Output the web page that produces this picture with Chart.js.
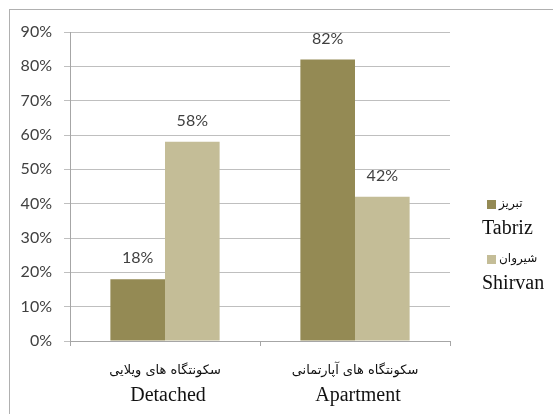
<!DOCTYPE html>
<html>
<head>
<meta charset="utf-8">
<script src="https://cdn.jsdelivr.net/npm/chart.js@4.4.0/dist/chart.umd.min.js"></script>
<style>
  body { margin: 0; background: #fff; }
  #wrap { position: relative; width: 553px; height: 414px; overflow: hidden; }
  #frame { position: absolute; left: 9px; top: 9px; width: 600px; height: 500px; border: 1.5px solid #b0b0b0; pointer-events: none; }
  canvas { position: absolute; left: 0; top: 0; }
</style>
</head>
<body>
<div id="wrap">
  <canvas id="chart" width="553" height="414"></canvas>
  <div id="frame"></div>
</div>
<script>
// categories and series
const categoriesFa = ['سکونتگاه های ویلایی', 'سکونتگاه های آپارتمانی'];
const categoriesEn = ['Detached', 'Apartment'];
const seriesFa = ['تبریز', 'شیروان'];
const seriesEn = ['Tabriz', 'Shirvan'];
const tabriz = [18, 82];
const shirvan = [58, 42];
const colors = ['#948A54', '#C4BD97'];

// value labels above bars
const valueLabels = {
  id: 'valueLabels',
  afterDatasetsDraw(chart) {
    const ctx = chart.ctx;
    ctx.save();
    ctx.font = '16px Lato';
    ctx.fillStyle = '#404040';
    ctx.textAlign = 'center';
    ctx.textBaseline = 'middle';
    chart.data.datasets.forEach((ds, i) => {
      chart.getDatasetMeta(i).data.forEach((bar, j) => {
        ctx.fillText(ds.data[j] + '%', bar.x, bar.y - 21);
      });
    });
    ctx.restore();
  }
};

// two line category labels, Persian + English
const catLabels = {
  id: 'catLabels',
  afterDraw(chart) {
    const ctx = chart.ctx;
    const x = chart.scales.x;
    const y0 = chart.chartArea.bottom;
    ctx.save();
    ctx.textAlign = 'center';
    ctx.textBaseline = 'middle';
    ctx.fillStyle = '#111';
    categoriesEn.forEach((c, i) => {
      const px = x.getPixelForValue(i);
      ctx.font = '13px "DejaVu Sans"';
      ctx.fillText(categoriesFa[i], px, y0 + 30);
      ctx.font = '20px "Liberation Serif"';
      ctx.fillText(c, px + 3, y0 + 55);
    });
    ctx.restore();
  }
};

// legend at the right
const sideLegend = {
  id: 'sideLegend',
  afterDraw(chart) {
    const ctx = chart.ctx;
    ctx.save();
    chart.data.datasets.forEach((ds, i) => {
      const top = 200 + i * 55;
      ctx.fillStyle = ds.backgroundColor;
      ctx.fillRect(487, top, 9, 9);
      ctx.fillStyle = '#111';
      ctx.textBaseline = 'middle';
      ctx.textAlign = 'left';
      ctx.font = '12px "DejaVu Sans"';
      ctx.fillText(seriesFa[i], 499, top + 4);
      ctx.font = '20px "Liberation Serif"';
      ctx.fillText(seriesEn[i], 482, top + 29);
    });
    ctx.restore();
  }
};

new Chart(document.getElementById('chart'), {
  type: 'bar',
  data: {
    labels: categoriesEn,
    datasets: [
      { label: seriesEn[0], data: tabriz, backgroundColor: colors[0] },
      { label: seriesEn[1], data: shirvan, backgroundColor: colors[1] }
    ]
  },
  options: {
    responsive: false,
    animation: false,
    layout: { padding: { left: 10, top: 32, right: 103, bottom: 0 } },
    datasets: { bar: { categoryPercentage: 0.575, barPercentage: 1 } },
    plugins: { legend: { display: false }, tooltip: { enabled: false } },
    scales: {
      y: {
        min: 0,
        max: 90,
        ticks: {
          stepSize: 10,
          padding: 12,
          color: '#404040',
          font: { family: 'Lato', size: 16 },
          callback: v => v + '%'
        },
        grid: { color: '#bfbfbf', tickLength: 6, lineWidth: 1 },
        border: { color: '#a6a6a6' },
        afterFit(scale) { scale.width = 60; }
      },
      x: {
        ticks: { display: false },
        grid: { offset: true, drawOnChartArea: false, tickLength: 5, color: '#a6a6a6' },
        border: { color: '#a6a6a6' },
        afterFit(scale) { scale.height = 73; }
      }
    }
  },
  plugins: [valueLabels, catLabels, sideLegend]
});
</script>
</body>
</html>
